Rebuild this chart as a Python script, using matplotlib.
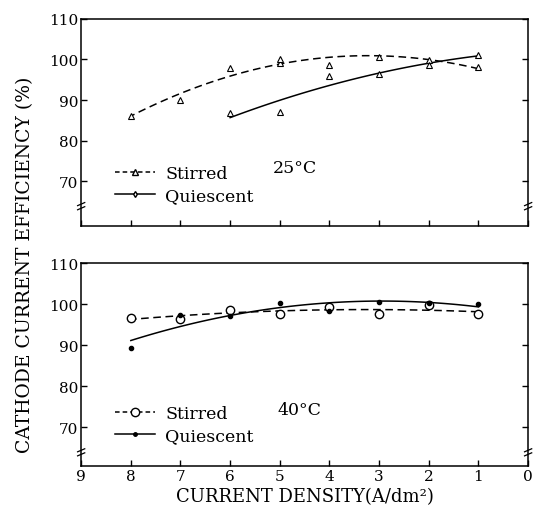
import matplotlib
matplotlib.use("Agg")
import matplotlib.pyplot as plt
import numpy as np

plt.rcParams["font.family"] = ["DejaVu Serif"]

# 25 degC
x25_stirred = [8, 7, 6, 5, 5, 4, 3, 2, 1]
y25_stirred = [86.2, 90.0, 97.8, 99.2, 100.0, 98.6, 100.7, 99.8, 98.2]
x25_quiet = [6, 5, 4, 3, 2, 1]
y25_quiet = [86.7, 87.1, 96.0, 96.5, 98.6, 101.0]

# 40 degC
x40_stirred = [8, 7, 6, 5, 4, 3, 2, 1]
y40_stirred = [96.6, 96.5, 98.6, 97.6, 99.4, 97.6, 99.8, 97.6]
x40_quiet = [8, 7, 6, 5, 4, 3, 2, 1]
y40_quiet = [89.3, 97.3, 97.0, 100.2, 98.4, 100.6, 100.2, 100.0]

x_ticks = [9, 8, 7, 6, 5, 4, 3, 2, 1, 0]
y_ticks = [70, 80, 90, 100, 110]


def trend(ax, xs, ys, deg, ls):
    c = np.polyfit(xs, ys, deg)
    xx = np.linspace(min(xs), max(xs), 100)
    ax.plot(xx, np.polyval(c, xx), color="black", ls=ls, lw=1.1)


def break_marks(ax, yfrac):
    for xa in (0.0, 1.0):
        ax.plot([xa - 0.008, xa + 0.008], [yfrac, yfrac + 0.015], transform=ax.transAxes,
                color="black", lw=0.9, clip_on=False)
        ax.plot([xa - 0.008, xa + 0.008], [yfrac - 0.02, yfrac - 0.005], transform=ax.transAxes,
                color="black", lw=0.9, clip_on=False)


def style(ax, ylo):
    ax.set_xlim(9, 0)
    ax.set_ylim(ylo, 110)
    ax.set_xticks(x_ticks)
    ax.set_yticks(y_ticks)
    ax.tick_params(direction="in", length=4, width=1, labelsize=11, right=True, top=False, pad=2)
    for s in ax.spines.values():
        s.set_linewidth(1.1)
    break_marks(ax, (64 - ylo) / (110 - ylo))


fig = plt.figure(figsize=(5.34, 5.10), dpi=100)
ax1 = fig.add_axes([0.152, 0.555, 0.837, 0.406])
ax2 = fig.add_axes([0.152, 0.084, 0.837, 0.398])

# top panel
trend(ax1, x25_stirred, y25_stirred, 2, (0, (5, 3)))
trend(ax1, x25_quiet, y25_quiet, 2, "-")
ax1.plot(x25_stirred, y25_stirred, ls="none", marker="^", ms=5, mfc="white", mec="black", mew=0.8)
ax1.plot(x25_quiet, y25_quiet, ls="none", marker="^", ms=5, mfc="white", mec="black", mew=0.8)
h1 = ax1.plot([], [], color="black", ls=(0, (3, 2)), lw=1.1, marker="^", ms=4, mfc="white", mec="black")[0]
h2 = ax1.plot([], [], color="black", ls="-", lw=1.1, marker="d", ms=3, mfc="white", mec="black")[0]
ax1.legend([h1, h2], ["Stirred", "Quiescent"], loc="lower left", bbox_to_anchor=(0.04, 0.03),
           frameon=False, fontsize=12.5, handlelength=2.3, handletextpad=0.6, labelspacing=0.3)
ax1.text(5.15, 73.5, "25°C", fontsize=12.5, ha="left", va="center")
style(ax1, 59)
ax1.set_xticklabels([])

# bottom panel
trend(ax2, x40_stirred, y40_stirred, 2, (0, (5, 3)))
trend(ax2, x40_quiet, y40_quiet, 2, "-")
ax2.plot(x40_stirred, y40_stirred, ls="none", marker="o", ms=6, mfc="white", mec="black", mew=1.0)
ax2.plot(x40_quiet, y40_quiet, ls="none", marker="o", ms=3, mfc="black", mec="black")
h3 = ax2.plot([], [], color="black", ls=(0, (3, 2)), lw=1.1, marker="o", ms=6, mfc="white", mec="black")[0]
h4 = ax2.plot([], [], color="black", ls="-", lw=1.1, marker="o", ms=2.5, mfc="black", mec="black")[0]
ax2.legend([h3, h4], ["Stirred", "Quiescent"], loc="lower left", bbox_to_anchor=(0.04, 0.03),
           frameon=False, fontsize=12.5, handlelength=2.3, handletextpad=0.6, labelspacing=0.3)
ax2.text(5.05, 74.4, "40°C", fontsize=12.5, ha="left", va="center")
style(ax2, 60.5)
ax2.set_xlabel("CURRENT DENSITY(A/dm²)", fontsize=13, labelpad=3)

fig.text(0.047, 0.48, "CATHODE CURRENT EFFICIENCY (%)", rotation=90, ha="center", va="center", fontsize=13.5)

fig.savefig("out.png", dpi=100)
